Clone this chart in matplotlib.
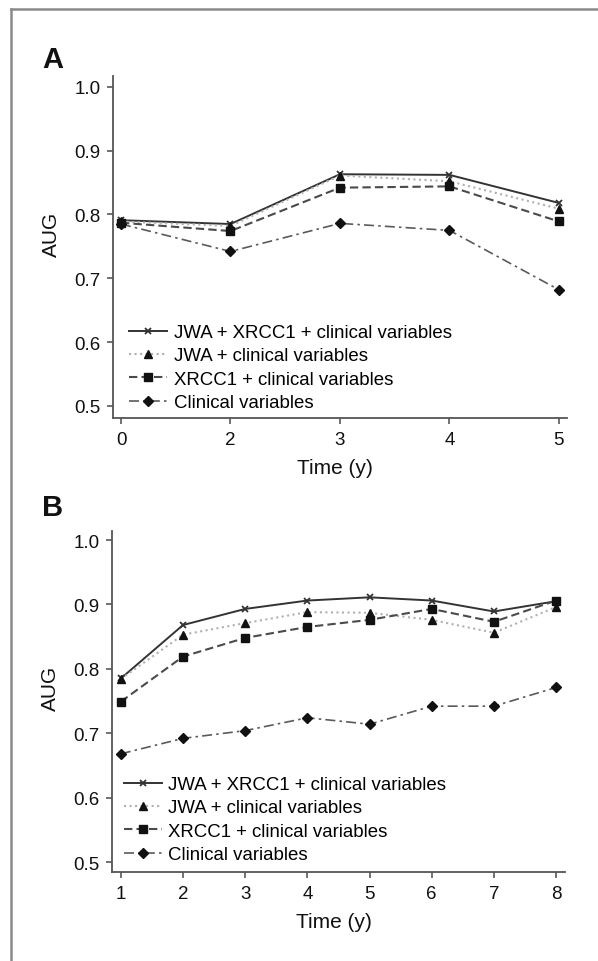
import matplotlib
matplotlib.use("Agg")
import matplotlib.pyplot as plt
from matplotlib.lines import Line2D

plt.rcParams["font.family"] = ["Liberation Sans", "DejaVu Sans"]

SERIES = ["JWA + XRCC1 + clinical variables", "JWA + clinical variables",
          "XRCC1 + clinical variables", "Clinical variables"]

# panel A
a_years = ["0", "2", "3", "4", "5"]
a_jwa_xrcc1 = [0.791, 0.785, 0.863, 0.862, 0.818]
a_jwa = [0.789, 0.782, 0.861, 0.852, 0.809]
a_xrcc1 = [0.787, 0.774, 0.842, 0.844, 0.789]
a_clin = [0.785, 0.742, 0.786, 0.775, 0.682]

# panel B
b_years = ["1", "2", "3", "4", "5", "6", "7", "8"]
b_jwa_xrcc1 = [0.785, 0.868, 0.893, 0.906, 0.911, 0.906, 0.889, 0.905]
b_jwa = [0.784, 0.853, 0.871, 0.888, 0.887, 0.876, 0.856, 0.896]
b_xrcc1 = [0.749, 0.819, 0.848, 0.865, 0.876, 0.893, 0.873, 0.906]
b_clin = [0.668, 0.692, 0.704, 0.724, 0.714, 0.742, 0.742, 0.771]

STYLES = [
    dict(color="#333333", linestyle="-", marker="x", ms=5, mew=1.3, mec="#333333", lw=1.4),
    dict(color="#b0b0b0", linestyle=":", marker="^", ms=5.5, mfc="#111111", mec="#111111", lw=1.5),
    dict(color="#4a4a4a", linestyle=(0, (4, 2)), marker="s", ms=5.5, mfc="#111111", mec="#111111", lw=1.5),
    dict(color="#5a5a5a", linestyle=(0, (6, 2.5, 1.5, 2.5)), marker="D", ms=5, mfc="#111111", mec="#111111", lw=1.2),
]

fig = plt.figure(figsize=(5.98, 9.62), dpi=100)

# outer frame
fig.add_artist(Line2D([11 / 598, 11 / 598], [0, 1 - 10 / 962], transform=fig.transFigure,
                      color="#8a8a8a", lw=1.8))
fig.add_artist(Line2D([11 / 598, 1], [1 - 10 / 962, 1 - 10 / 962], transform=fig.transFigure,
                      color="#8a8a8a", lw=1.8))


def panel(rect, years, data, ylim, xlim, letter, letter_y, leg_anchor):
    ax = fig.add_axes(rect)
    x = list(range(len(years)))
    for vals, lab, st in zip(data, SERIES, STYLES):
        ax.plot(x, vals, label=lab, **st)
    ax.set_xlim(*xlim)
    ax.set_ylim(*ylim)
    ax.set_xticks(x)
    ax.set_xticklabels(years)
    ax.set_yticks([0.5, 0.6, 0.7, 0.8, 0.9, 1.0])
    ax.set_yticklabels(["0.5", "0.6", "0.7", "0.8", "0.9", "1.0"])
    for s in ["top", "right"]:
        ax.spines[s].set_visible(False)
    for s in ["left", "bottom"]:
        ax.spines[s].set_color("#555555")
        ax.spines[s].set_linewidth(1.3)
    ax.tick_params(length=4.5, width=1.3, color="#666666", labelsize=13.5, pad=4.5,
                   labelcolor="#111111")
    ax.set_ylabel("AUG", fontsize=15, color="#111111")
    ax.yaxis.set_label_coords(-0.115, 0.54)
    ax.set_xlabel("Time (y)", fontsize=15, color="#111111")
    ax.xaxis.set_label_coords(0.49, -0.118)
    ax.legend(loc="lower left", bbox_to_anchor=leg_anchor, frameon=False, fontsize=13.4,
              borderpad=0, borderaxespad=0, labelspacing=0.34, handlelength=2.05,
              handletextpad=0.35)
    fig.text(42 / 598, 1 - letter_y / 962, letter, fontsize=21, fontweight="bold",
             ha="left", va="baseline", color="#111111")
    return ax


panel([0.189, 0.5644, 0.759, 0.3556], a_years, [a_jwa_xrcc1, a_jwa, a_xrcc1, a_clin],
      (0.481, 1.017), (-0.073, 4.073), "A", 68, (0.035, 0.02))
panel([0.187, 0.0925, 0.758, 0.3545], b_years, [b_jwa_xrcc1, b_jwa, b_xrcc1, b_clin],
      (0.4845, 1.014), (-0.145, 7.145), "B", 516, (0.026, 0.026))

fig.savefig("out.png", dpi=100)
